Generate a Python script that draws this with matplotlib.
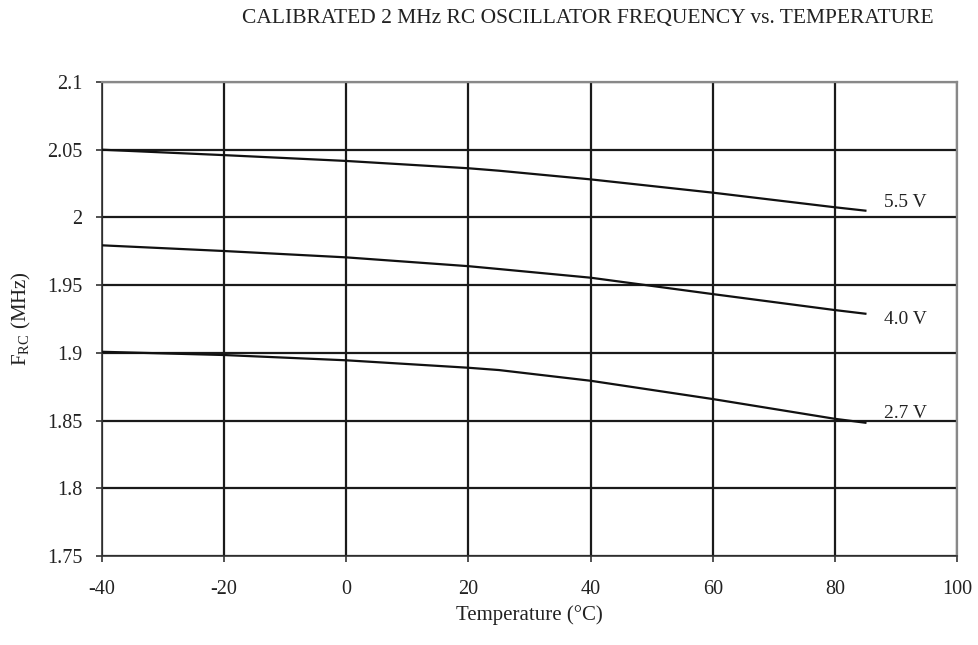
import numpy as np
import matplotlib
matplotlib.use("Agg")
import matplotlib.pyplot as plt

plt.rcParams['font.family'] = ['Liberation Serif', 'DejaVu Serif']
plt.rcParams['axes.unicode_minus'] = False

temperature = [-40, -20, 0, 20, 25, 40, 60, 80, 85]
freq_5v5 = [2.0500, 2.0460, 2.0417, 2.0363, 2.0345, 2.0281, 2.0183, 2.0075, 2.0050]
freq_4v0 = [1.9794, 1.9752, 1.9705, 1.9640, 1.9619, 1.9555, 1.9434, 1.9316, 1.9289]
freq_2v7 = [1.9008, 1.8984, 1.8945, 1.8890, 1.8873, 1.8794, 1.8659, 1.8513, 1.8484]

series = [("5.5 V", freq_5v5), ("4.0 V", freq_4v0), ("2.7 V", freq_2v7)]
label_offsets = [0.006, -0.0045, 0.0065]

x_ticks = [-40, -20, 0, 20, 40, 60, 80, 100]
y_ticks = [1.75, 1.8, 1.85, 1.9, 1.95, 2.0, 2.05, 2.1]
y_tick_labels = ["1.75", "1.8", "1.85", "1.9", "1.95", "2", "2.05", "2.1"]

fig = plt.figure(figsize=(9.79, 6.45), dpi=100)
ax = fig.add_axes([102 / 979, 1 - 556 / 645, 855 / 979, 474 / 645])

for name, values in series:
    ax.plot(temperature, values, color="#111111", lw=1.6, zorder=3)

for (name, values), off in zip(series, label_offsets):
    ax.text(88, values[-1] + off, name, fontsize=14, va="center", ha="left",
            color="#222222", zorder=4)

ax.set_xlim(-40, 100)
ax.set_ylim(1.75, 2.1)
ax.set_xticks(x_ticks)
ax.set_xticklabels([str(t) for t in x_ticks])
ax.set_yticks(y_ticks)
ax.set_yticklabels(y_tick_labels)
ax.grid(True, color="#1a1a1a", lw=1.6)
ax.set_axisbelow(True)

for side in ["top", "right"]:
    ax.spines[side].set_color("#888888")
    ax.spines[side].set_linewidth(1.6)
for side in ["left", "bottom"]:
    ax.spines[side].set_color("#333333")
    ax.spines[side].set_linewidth(1.2)

ax.tick_params(direction="out", length=4.5, width=1.2, colors="#333333",
               labelsize=14.5, labelcolor="#222222")
ax.tick_params(axis="y", pad=9.5)
ax.tick_params(axis="x", pad=13)

ax.set_xlabel("Temperature (°C)", fontsize=15, color="#222222", labelpad=4)
ax.set_ylabel("F$_{\\mathregular{RC}}$ (MHz)", fontsize=15, color="#222222", labelpad=10)

fig.text(588 / 979, 1 - 19 / 645, "CALIBRATED 2 MHz RC OSCILLATOR FREQUENCY vs. TEMPERATURE",
         ha="center", va="center", fontsize=15.5, color="#222222")

fig.savefig("out.png", dpi=100)
